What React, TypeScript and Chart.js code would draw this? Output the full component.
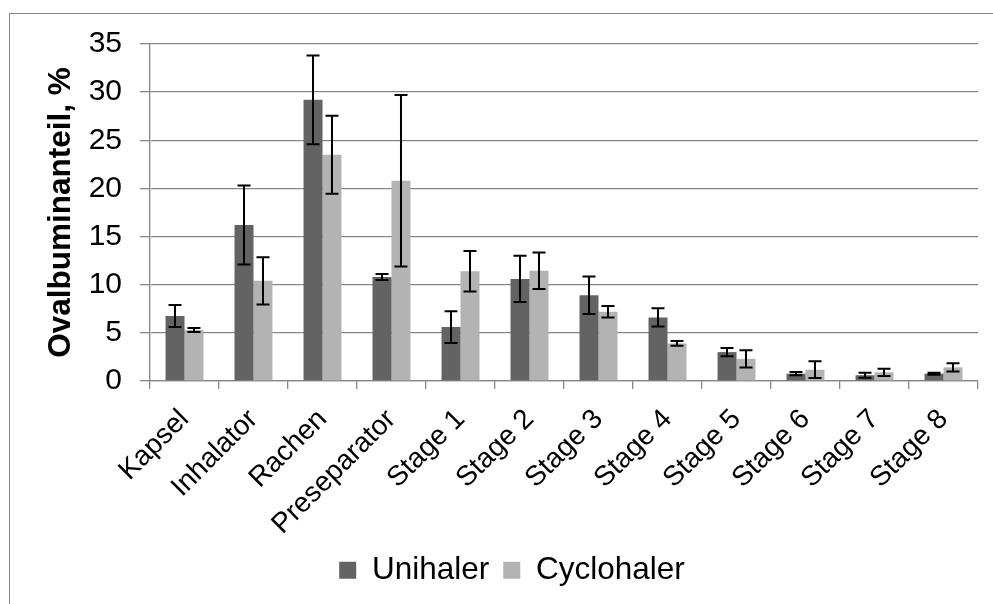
import React, { useEffect, useRef } from "react";
import { Chart, registerables } from "chart.js";

Chart.register(...registerables);

const categories = [
  "Kapsel",
  "Inhalator",
  "Rachen",
  "Preseparator",
  "Stage 1",
  "Stage 2",
  "Stage 3",
  "Stage 4",
  "Stage 5",
  "Stage 6",
  "Stage 7",
  "Stage 8",
];
const unihaler = [6.75, 16.2, 29.2, 10.8, 5.6, 10.6, 8.9, 6.6, 3.0, 0.76, 0.6, 0.76];
const unihalerErr = [1.15, 4.1, 4.6, 0.3, 1.65, 2.4, 1.95, 0.95, 0.43, 0.17, 0.25, 0.1];
const cyclohaler = [5.3, 10.4, 23.5, 20.8, 11.4, 11.45, 7.2, 3.9, 2.3, 1.17, 0.9, 1.42];
const cyclohalerErr = [0.2, 2.45, 4.05, 8.9, 2.1, 1.9, 0.6, 0.25, 0.9, 0.87, 0.38, 0.43];
const yMin = 0;
const yMax = 35;
const yStep = 5;

const FONT = "'Liberation Sans', Arial, sans-serif";
const GRID = "#868686";

const errorBarPlugin = {
  id: "errorBars",
  afterDatasetsDraw(chart: any) {
    const ctx = chart.ctx;
    const yScale = chart.scales.y;
    const errs = [unihalerErr, cyclohalerErr];
    ctx.save();
    ctx.strokeStyle = "#000000";
    ctx.lineWidth = 2;
    chart.data.datasets.forEach((ds: any, i: number) => {
      const meta = chart.getDatasetMeta(i);
      meta.data.forEach((bar: any, j: number) => {
        const v = ds.data[j];
        const e = errs[i][j];
        const x = bar.x;
        const yt = yScale.getPixelForValue(v + e);
        const yb = yScale.getPixelForValue(v - e);
        const cap = 6.5;
        ctx.beginPath();
        ctx.moveTo(x, yt);
        ctx.lineTo(x, yb);
        ctx.moveTo(x - cap, yt);
        ctx.lineTo(x + cap, yt);
        ctx.moveTo(x - cap, yb);
        ctx.lineTo(x + cap, yb);
        ctx.stroke();
      });
    });
    ctx.restore();
  },
};

export default function App() {
  const ref = useRef<HTMLCanvasElement | null>(null);

  useEffect(() => {
    document.body.style.overflow = "hidden";
    if (!ref.current) return;
    const chart = new Chart(ref.current, {
      type: "bar",
      data: {
        labels: categories,
        datasets: [
          {
            label: "Unihaler",
            data: unihaler,
            backgroundColor: "#636363",
            borderWidth: 0,
            categoryPercentage: 0.55,
            barPercentage: 1.0,
          },
          {
            label: "Cyclohaler",
            data: cyclohaler,
            backgroundColor: "#b3b3b3",
            borderWidth: 0,
            categoryPercentage: 0.55,
            barPercentage: 1.0,
          },
        ],
      },
      options: {
        responsive: false,
        animation: false,
        layout: { padding: { top: 44, left: 46, right: 15, bottom: 8 } },
        plugins: {
          tooltip: { enabled: false },
          legend: {
            position: "bottom",
            labels: {
              font: { family: FONT, size: 31.5 },
              color: "#000000",
              boxWidth: 17,
              boxHeight: 17,
              padding: 14,
            },
          },
        },
        scales: {
          x: {
            afterFit: (scale: any) => {
              scale.height = 159.5;
            },
            grid: {
              display: true,
              drawOnChartArea: false,
              drawTicks: true,
              tickLength: 8,
              color: GRID,
              lineWidth: 1.3,
              offset: true,
            },
            border: { display: true, color: GRID, width: 1.3 },
            ticks: {
              font: { family: FONT, size: 28 },
              color: "#000000",
              maxRotation: 45,
              minRotation: 45,
              autoSkip: false,
              padding: 14,
            },
          },
          y: {
            min: yMin,
            max: yMax,
            afterFit: (scale: any) => {
              scale.width = 104;
            },
            grid: {
              color: GRID,
              lineWidth: 1.3,
              drawTicks: true,
              tickLength: 10,
            },
            border: { display: true, color: GRID, width: 1.3 },
            ticks: {
              stepSize: yStep,
              font: { family: FONT, size: 30 },
              color: "#000000",
              padding: 18,
            },
            title: {
              display: true,
              text: "Ovalbuminanteil, %",
              font: { family: FONT, size: 31.5, weight: "bold", lineHeight: 1 },
              color: "#000000",
              padding: { top: 0, bottom: 0 },
            },
          },
        },
      },
      plugins: [errorBarPlugin],
    });
    return () => chart.destroy();
  }, []);

  return (
    <>
      <div
        style={{
          position: "fixed",
          left: 9,
          top: 13,
          width: 1200,
          height: 800,
          border: "1px solid #868686",
          boxSizing: "border-box",
        }}
      />
      <div style={{ position: "fixed", left: 0, top: 0, width: 993, height: 604 }}>
        <canvas ref={ref} width={993} height={604} style={{ display: "block" }} />
      </div>
    </>
  );
}
